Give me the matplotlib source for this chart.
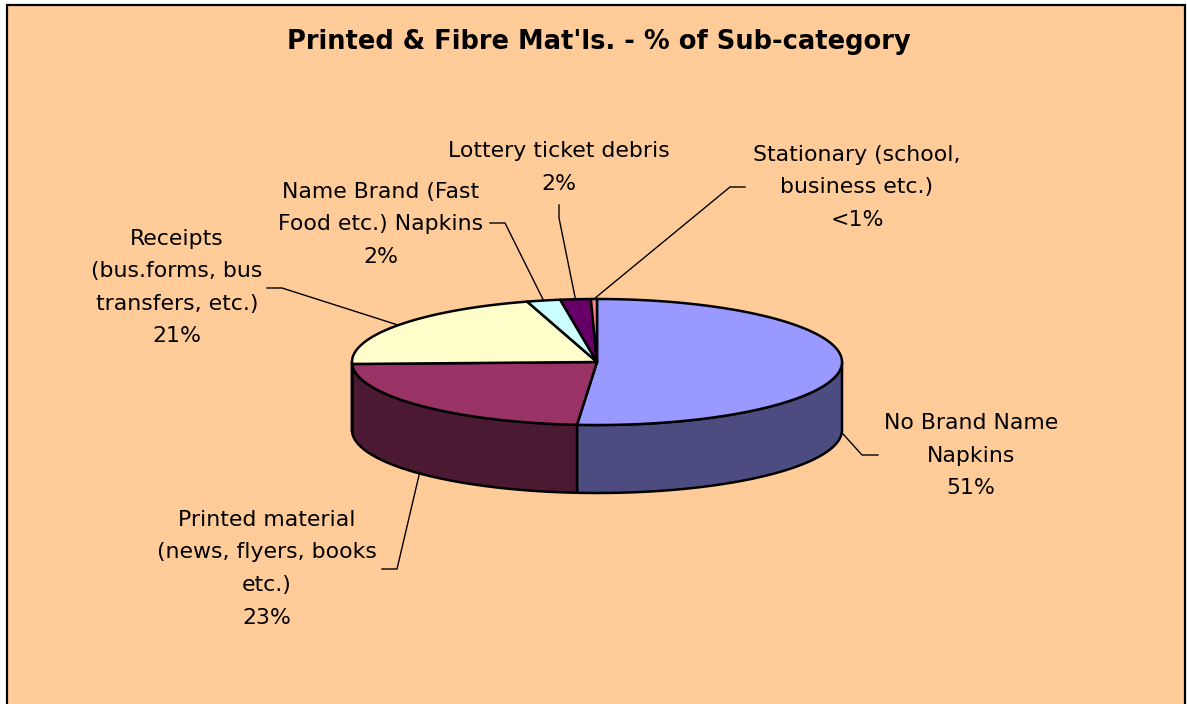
import numpy as np
import matplotlib
matplotlib.use("Agg")
import matplotlib.pyplot as plt
from matplotlib.patches import Polygon, Rectangle

# ---------------- data ----------------
title = "Printed & Fibre Mat'ls. - % of Sub-category"
categories = [
    "No Brand Name\nNapkins",
    "Printed material\n(news, flyers, books\netc.)",
    "Receipts\n(bus.forms, bus\ntransfers, etc.)",
    "Name Brand (Fast\nFood etc.) Napkins",
    "Lottery ticket debris",
    "Stationary (school,\nbusiness etc.)",
]
values = [51.3, 23.2, 20.9, 2.2, 2.0, 0.4]
pct_labels = ["51%", "23%", "21%", "2%", "2%", "<1%"]
top_colors = ["#9999FF", "#993366", "#FFFFCC", "#CCFFFF", "#660066", "#FF8080"]
side_colors = ["#4C4C80", "#4C1933", "#808066", "#668080", "#330033", "#804040"]

# ---------------- layout (pixel space) ----------------
W, H = 1187, 704
cx, cy, a, b, depth = 597, 362, 245, 63, 68
# label centre x, first baseline y
label_pos = [(971, 429), (267, 526), (177, 245), (381, 198), (559, 157), (857, 161)]
line_step = [32.5, 32.5, 32.5, 32.5, 33.0, 32.5]
# leader line: elbow point, label end point
leader_pts = [
    [(862, 455), (878, 455)],
    [(397, 569), (382, 569)],
    [(282, 288), (267, 288)],
    [(505, 223), (490, 223)],
    [(559, 218), (559, 205)],
    [(730, 187), (745, 187)],
]

fig = plt.figure(figsize=(W / 100, H / 100), dpi=100)
fig.patch.set_facecolor("white")
ax = fig.add_axes([0, 0, 1, 1])
ax.set_xlim(0, W)
ax.set_ylim(H, 0)
ax.axis("off")

ax.add_patch(Rectangle((7, 5), 1178, 740, facecolor="#FFCC99",
                       edgecolor="black", lw=1.6, zorder=0))

fracs = np.array(values) / np.sum(values)
bounds = np.concatenate([[0.0], np.cumsum(fracs)]) * 360.0


def pt(th, dz=0.0):
    t = np.radians(th)
    return cx + a * np.sin(t), cy - b * np.cos(t) + dz


# side faces (front half visible)
for i in range(len(values)):
    s, e = bounds[i], bounds[i + 1]
    lo, hi = max(s, 90.0), min(e, 270.0)
    if hi > lo:
        th = np.linspace(lo, hi, 200)
        xs, ys = pt(th)
        xb, yb = pt(th[::-1], depth)
        poly = np.column_stack([np.concatenate([xs, xb]), np.concatenate([ys, yb])])
        ax.add_patch(Polygon(poly, closed=True, facecolor=side_colors[i],
                             edgecolor="black", lw=1.8, joinstyle="round", zorder=2))

# top faces
for i in range(len(values)):
    s, e = bounds[i], bounds[i + 1]
    th = np.linspace(s, e, max(int((e - s) * 3), 4))
    xs, ys = pt(th)
    poly = np.column_stack([np.concatenate([[cx], xs]), np.concatenate([[cy], ys])])
    ax.add_patch(Polygon(poly, closed=True, facecolor=top_colors[i],
                         edgecolor="black", lw=1.8, joinstyle="round", zorder=3))

# labels and leader lines
font = dict(family="DejaVu Sans", fontsize=15.8, color="black")
for i in range(len(values)):
    lines = categories[i].split("\n") + [pct_labels[i]]
    x0, y0 = label_pos[i]
    for k, line in enumerate(lines):
        ax.text(x0, y0 + k * line_step[i], line, ha="center", va="baseline",
                zorder=5, **font)
    mid = (bounds[i] + bounds[i + 1]) / 2
    if 90 <= mid <= 270:
        ax_, ay_ = pt(mid, depth)
    else:
        ax_, ay_ = pt(mid)
    px = [ax_] + [p[0] for p in leader_pts[i]]
    py = [ay_] + [p[1] for p in leader_pts[i]]
    ax.plot(px, py, color="black", lw=1.0, zorder=4)

ax.text(599, 49, title, ha="center", va="baseline", family="DejaVu Sans",
        fontsize=18.5, fontweight="bold", color="black", zorder=5)

fig.savefig("out.png", dpi=100, facecolor=fig.get_facecolor())
